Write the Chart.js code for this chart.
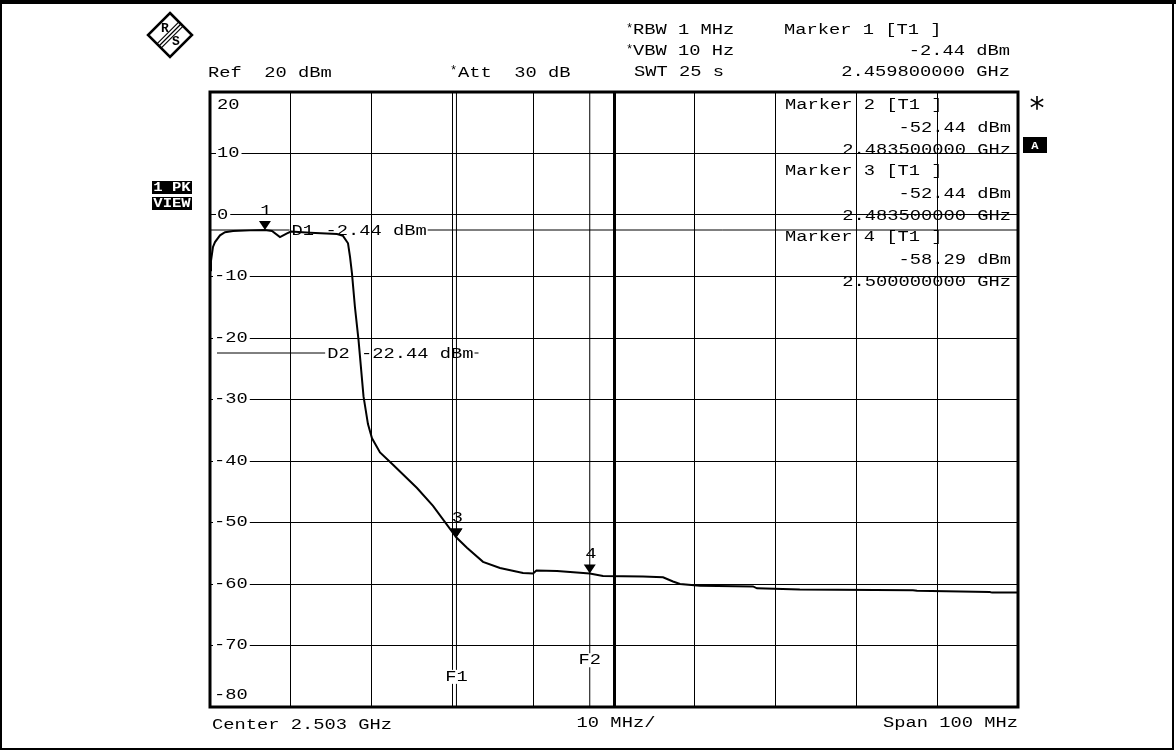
<!DOCTYPE html>
<html>
<head>
<meta charset="utf-8">
<title>Spectrum 2.503 GHz</title>
<script src="https://cdn.jsdelivr.net/npm/chart.js@4.4.1/dist/chart.umd.min.js"></script>
<style>
  html, body { margin: 0; background: #fff; }
  #wrap { width: 1176px; height: 751px; position: relative; }
</style>
</head>
<body>
<div id="wrap"><canvas id="myChart"></canvas></div>
<script>
// trace (MHz / dBm)
const freqMHz = [2453.0, 2453.12, 2453.37, 2453.62, 2454.24, 2454.86, 2455.85, 2457.95, 2459.8, 2460.67,
  2461.66, 2462.53, 2463.02, 2465.38, 2468.72, 2469.46, 2470.08, 2470.33, 2470.57, 2470.94,
  2471.38, 2472.0, 2472.55, 2473.05, 2474.04, 2475.65, 2476.51, 2478.62, 2480.6, 2483.5,
  2484.8, 2486.79, 2488.89, 2491.74, 2492.98, 2493.4, 2495.95, 2500.0, 2501.64, 2506.59,
  2509.07, 2510.3, 2511.17, 2513.64, 2520.2, 2520.7, 2526.0, 2540.0, 2540.5, 2549.5,
  2549.8, 2553.0];
const levelDbm = [-9.0, -7.5, -5.2, -4.4, -3.3, -2.8, -2.6, -2.5, -2.44, -2.6,
  -3.6, -3.0, -2.7, -2.9, -3.1, -3.4, -4.6, -6.8, -9.5, -15.0,
  -20.3, -29.5, -34.0, -36.3, -38.6, -40.6, -41.7, -44.4, -47.3, -52.44,
  -54.1, -56.4, -57.4, -58.2, -58.3, -57.8, -57.9, -58.29, -58.7, -58.8,
  -58.9, -59.6, -60.0, -60.3, -60.4, -60.7, -60.9, -61.0, -61.1, -61.3,
  -61.4, -61.4];

const markerNums = [1, 2, 3, 4];
const markerFreq = [2459.8, 2483.5, 2483.5, 2500.0];
const markerLevel = [-2.44, -52.44, -52.44, -58.29];

const displayLines = ['D1', 'D2'];
const displayLevel = [-2.44, -22.44];
const freqLines = ['F1', 'F2'];
const freqLineMHz = [2483.5, 2500.0];

const yTicks = [20, 10, 0, -10, -20, -30, -40, -50, -60, -70, -80];
const centerMHz = 2503;

const FONT = "'Liberation Mono', 'DejaVu Sans Mono', monospace";
const SX = 1.34;

function txt(ctx, s, x, y, align, size, sx, weight) {
  ctx.save();
  ctx.font = (weight || 'normal') + ' ' + (size || 14) + 'px ' + FONT;
  ctx.translate(x, y);
  ctx.scale(sx || SX, 1);
  ctx.textAlign = align || 'left';
  ctx.textBaseline = 'middle';
  ctx.fillText(s, 0, 0);
  const w = ctx.measureText(s).width * (sx || SX);
  ctx.restore();
  return w;
}

function hline(ctx, x1, x2, y, w) {
  ctx.beginPath();
  ctx.lineWidth = w || 1;
  ctx.moveTo(x1, y);
  ctx.lineTo(x2, y);
  ctx.stroke();
}

const decor = {
  id: 'decor',
  afterDraw(chart) {
    const ctx = chart.ctx;
    const a = chart.chartArea;
    const xs = chart.scales.x, ys = chart.scales.y;
    ctx.save();
    ctx.fillStyle = '#000';
    ctx.strokeStyle = '#000';

    // display lines with their labels
    const dStart = [a.left, a.left + 7];
    const dText = [2463.1, 2467.5];
    displayLines.forEach((name, i) => {
      const y = ys.getPixelForValue(displayLevel[i]);
      const tx = xs.getPixelForValue(dText[i]);
      const label = name + ' ' + displayLevel[i].toFixed(2) + ' dBm';
      hline(ctx, dStart[i], tx - 2, y);
      const w = txt(ctx, label, tx, y + 1);
      hline(ctx, tx + w + 1, i === 0 ? a.right : tx + w + 5, y);
    });

    // frequency lines
    const fLabelY = [-75.1, -72.4];
    freqLines.forEach((name, i) => {
      const x = xs.getPixelForValue(freqLineMHz[i]);
      ctx.beginPath();
      ctx.lineWidth = 1;
      ctx.moveTo(x, a.top);
      ctx.lineTo(x, a.bottom);
      ctx.stroke();
      const y = ys.getPixelForValue(fLabelY[i]);
      ctx.fillStyle = '#fff';
      ctx.fillRect(x - 11, y - 7, 22, 14);
      ctx.fillStyle = '#000';
      txt(ctx, name, x, y, 'center');
    });

    // y labels inside the grid
    yTicks.forEach(v => {
      let y = ys.getPixelForValue(v);
      if (v === 20) y = a.top + 13;
      if (v === -80) y = a.bottom - 12;
      const s = String(v);
      const x = v < 0 ? a.left + 4 : a.left + 7;
      ctx.save();
      ctx.font = '14px ' + FONT;
      const w = ctx.measureText(s).width * SX;
      ctx.restore();
      ctx.fillStyle = '#fff';
      ctx.fillRect(x - 1, y - 6, w + 3, 12);
      ctx.fillStyle = '#000';
      txt(ctx, s, x, y);
    });

    // marker triangles
    markerNums.forEach((n, i) => {
      const x = xs.getPixelForValue(markerFreq[i]);
      const y = ys.getPixelForValue(markerLevel[i]);
      ctx.beginPath();
      ctx.moveTo(x, y);
      ctx.lineTo(x - 6, y - 9);
      ctx.lineTo(x + 6, y - 9);
      ctx.closePath();
      ctx.fill();
      if (n !== 2) txt(ctx, String(n), x + 1, y - 19, 'center');
    });

    // marker readouts (2..4 inside grid, 1 in header)
    const blockTop = [null, 105, 171, 237];
    markerNums.forEach((n, i) => {
      const head = 'Marker ' + n + ' [T1 ]';
      const lvl = markerLevel[i].toFixed(2) + ' dBm';
      const fr = (markerFreq[i] / 1000).toFixed(9) + ' GHz';
      if (i === 0) {
        txt(ctx, head, 784, 30);
        txt(ctx, lvl, 1010, 51, 'right');
        txt(ctx, fr, 1010, 72, 'right');
      } else {
        const t = blockTop[i];
        txt(ctx, head, 785, t);
        txt(ctx, lvl, 1011, t + 23, 'right');
        txt(ctx, fr, 1011, t + 45, 'right');
      }
    });

    // frame around the grid
    ctx.lineWidth = 3;
    ctx.strokeRect(a.left, a.top, a.right - a.left, a.bottom - a.top);

    // header settings
    txt(ctx, 'Ref  20 dBm', 208, 73);
    txt(ctx, '*', 450, 71, 'left', 12, 1);
    txt(ctx, 'Att  30 dB', 458, 73);
    txt(ctx, '*', 626, 29, 'left', 12, 1);
    txt(ctx, 'RBW 1 MHz', 633, 30);
    txt(ctx, '*', 626, 50, 'left', 12, 1);
    txt(ctx, 'VBW 10 Hz', 633, 51);
    txt(ctx, 'SWT 25 s', 634, 72);

    // footer
    txt(ctx, 'Center 2.503 GHz', 212, 725);
    txt(ctx, '10 MHz/', xs.getPixelForValue(centerMHz) + 2, 723, 'center');
    txt(ctx, 'Span 100 MHz', 1018, 723, 'right');

    // trace / screen badges
    ctx.fillRect(152, 181, 40, 13);
    ctx.fillRect(152, 197, 40, 13);
    ctx.fillRect(1023, 137, 24, 16);
    ctx.fillStyle = '#fff';
    txt(ctx, '1 PK', 172, 188, 'center', 12, 1.3, 'bold');
    txt(ctx, 'VIEW', 172, 204, 'center', 12, 1.3, 'bold');
    txt(ctx, 'A', 1035, 146, 'center', 11, 1.1, 'bold');
    ctx.fillStyle = '#000';
    ctx.font = '30px DejaVu Sans';
    ctx.textAlign = 'center';
    ctx.textBaseline = 'middle';
    ctx.fillText('*', 1037, 110);

    // R&S logo
    const cx = 170, cy = 35, r = 22;
    ctx.lineWidth = 2.5;
    ctx.beginPath();
    ctx.moveTo(cx, cy - r);
    ctx.lineTo(cx + r, cy);
    ctx.lineTo(cx, cy + r);
    ctx.lineTo(cx - r, cy);
    ctx.closePath();
    ctx.stroke();
    ctx.lineWidth = 1.2;
    [-3, 0, 3].forEach(o => {
      ctx.beginPath();
      ctx.moveTo(cx - 11 + o * 0.7, cy + 11 + o * 0.7);
      ctx.lineTo(cx + 11 + o * 0.7, cy - 11 + o * 0.7);
      ctx.stroke();
    });
    ctx.font = 'bold 13px ' + FONT;
    ctx.fillText('R', cx - 5, cy - 6);
    ctx.fillText('S', cx + 6, cy + 7);

    // page frame
    ctx.fillRect(0, 0, 1176, 4);
    ctx.lineWidth = 2;
    ctx.strokeRect(1, 1, 1172, 748);
    ctx.restore();
  }
};

document.addEventListener('DOMContentLoaded', () => {
  const ctx = document.getElementById('myChart').getContext('2d');
  const gridOpts = {
    color: '#000',
    drawTicks: false,
    lineWidth: c => (c.tick && Math.abs(c.tick.value - centerMHz) < 0.01 ? 3 : 1)
  };
  new Chart(ctx, {
    type: 'line',
    data: {
      datasets: [{
        data: freqMHz.map((f, i) => ({ x: f, y: levelDbm[i] })),
        borderColor: '#000',
        borderWidth: 2,
        pointRadius: 0,
        tension: 0
      }]
    },
    options: {
      animation: false,
      responsive: true,
      maintainAspectRatio: false,
      layout: { padding: { left: 210, right: 158, top: 92, bottom: 44 } },
      scales: {
        x: {
          type: 'linear',
          min: 2453,
          max: 2553,
          ticks: { display: false, stepSize: 10 },
          grid: gridOpts,
          border: { display: false }
        },
        y: {
          min: -80,
          max: 20,
          ticks: { display: false, stepSize: 10 },
          grid: { color: '#000', drawTicks: false, lineWidth: 1 },
          border: { display: false }
        }
      },
      plugins: {
        legend: { display: false },
        tooltip: { enabled: false }
      }
    },
    plugins: [decor]
  });
});
</script>
</body>
</html>
